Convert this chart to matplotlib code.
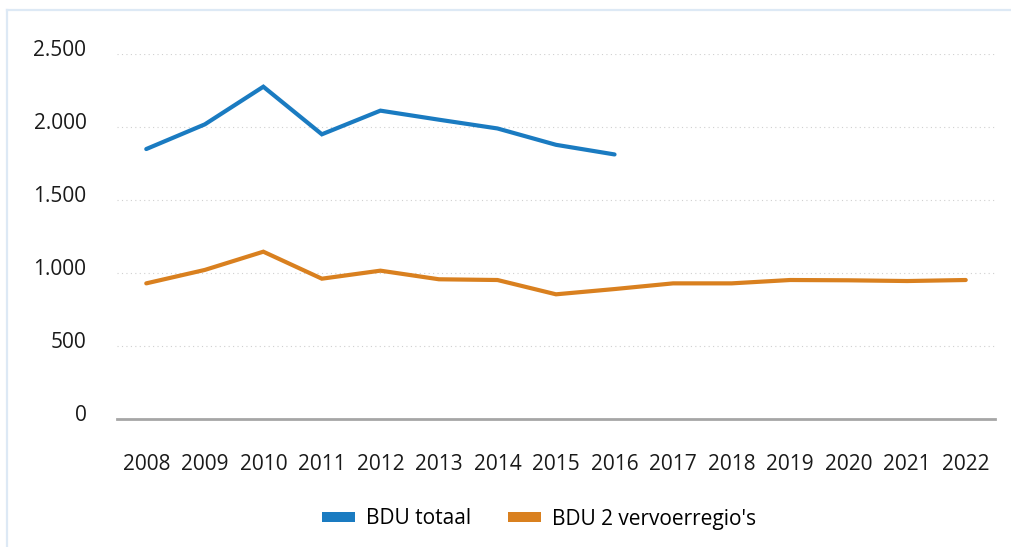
import matplotlib
matplotlib.use("Agg")
import matplotlib.pyplot as plt
import matplotlib.transforms as mtransforms
from matplotlib.patches import Patch
from matplotlib.lines import Line2D

years = ["2008", "2009", "2010", "2011", "2012", "2013", "2014", "2015",
         "2016", "2017", "2018", "2019", "2020", "2021", "2022"]
bdu_totaal = [1849, 2018, 2276, 1950, 2112, 2050, 1990, 1878, 1812]
bdu_2_regios = [929, 1021, 1146, 961, 1016, 957, 952, 854, 890, 929, 929, 952, 950, 945, 952]
yticks = [0, 500, 1000, 1500, 2000, 2500]
ytick_labels = ["0", "500", "1.000", "1.500", "2.000", "2.500"]
series_names = ["BDU totaal", "BDU 2 vervoerregio's"]
colors = ["#1a7bc1", "#d9801f"]

plt.rcParams['font.family'] = ['Open Sans', 'DejaVu Sans']

W, H = 1012, 547
fig = plt.figure(figsize=(W / 100, H / 100), dpi=100)

left, right = 117 / W, 995 / W
bottom, top = (H - 419) / H, (H - 54) / H
ax = fig.add_axes([left, bottom, right - left, top - bottom])

x_all = list(range(len(years)))
ax.plot(x_all[:len(bdu_totaal)], bdu_totaal, color=colors[0], lw=3.0,
        solid_capstyle='round', solid_joinstyle='miter', zorder=3)
ax.plot(x_all, bdu_2_regios, color=colors[1], lw=3.0,
        solid_capstyle='round', solid_joinstyle='miter', zorder=3)

ax.set_xlim(-0.5, len(years) - 0.5)
ax.set_ylim(0, 2500)
ax.set_xticks(x_all)
ax.set_xticklabels(years, fontsize=15, color="#1a1a1a")
ax.set_yticks(yticks)
ax.set_yticklabels(ytick_labels, fontsize=15, color="#1a1a1a")
ax.tick_params(axis='x', length=0, pad=25)
ax.tick_params(axis='y', length=0, pad=22)

offset = mtransforms.ScaledTranslation(0, 6 / 100, fig.dpi_scale_trans)
for lbl in ax.get_yticklabels():
    lbl.set_transform(lbl.get_transform() + offset)

for v in yticks[1:]:
    ax.axhline(v, color="#d0d0d0", lw=0.8, linestyle=(0, (1, 3)), zorder=1)

for s in ['top', 'right', 'left']:
    ax.spines[s].set_visible(False)
ax.spines['bottom'].set_color("#a6a6a6")
ax.spines['bottom'].set_linewidth(2.0)

handles = [Patch(facecolor=colors[0], edgecolor='none'),
           Patch(facecolor=colors[1], edgecolor='none')]
fig.legend(handles, series_names, loc='center', bbox_to_anchor=(539 / W, 1 - 519 / H),
           ncol=2, frameon=False, fontsize=15, handlelength=1.59, handleheight=0.34,
           handletextpad=0.5, columnspacing=1.8)

border_color = "#dde9f5"
fig.add_artist(Line2D([7 / W, 1], [1 - 10 / H, 1 - 10 / H], color=border_color, lw=1.6,
                      transform=fig.transFigure))
fig.add_artist(Line2D([7 / W, 7 / W], [0, 1 - 10 / H], color=border_color, lw=1.6,
                      transform=fig.transFigure))

fig.savefig("out.png", dpi=100)
